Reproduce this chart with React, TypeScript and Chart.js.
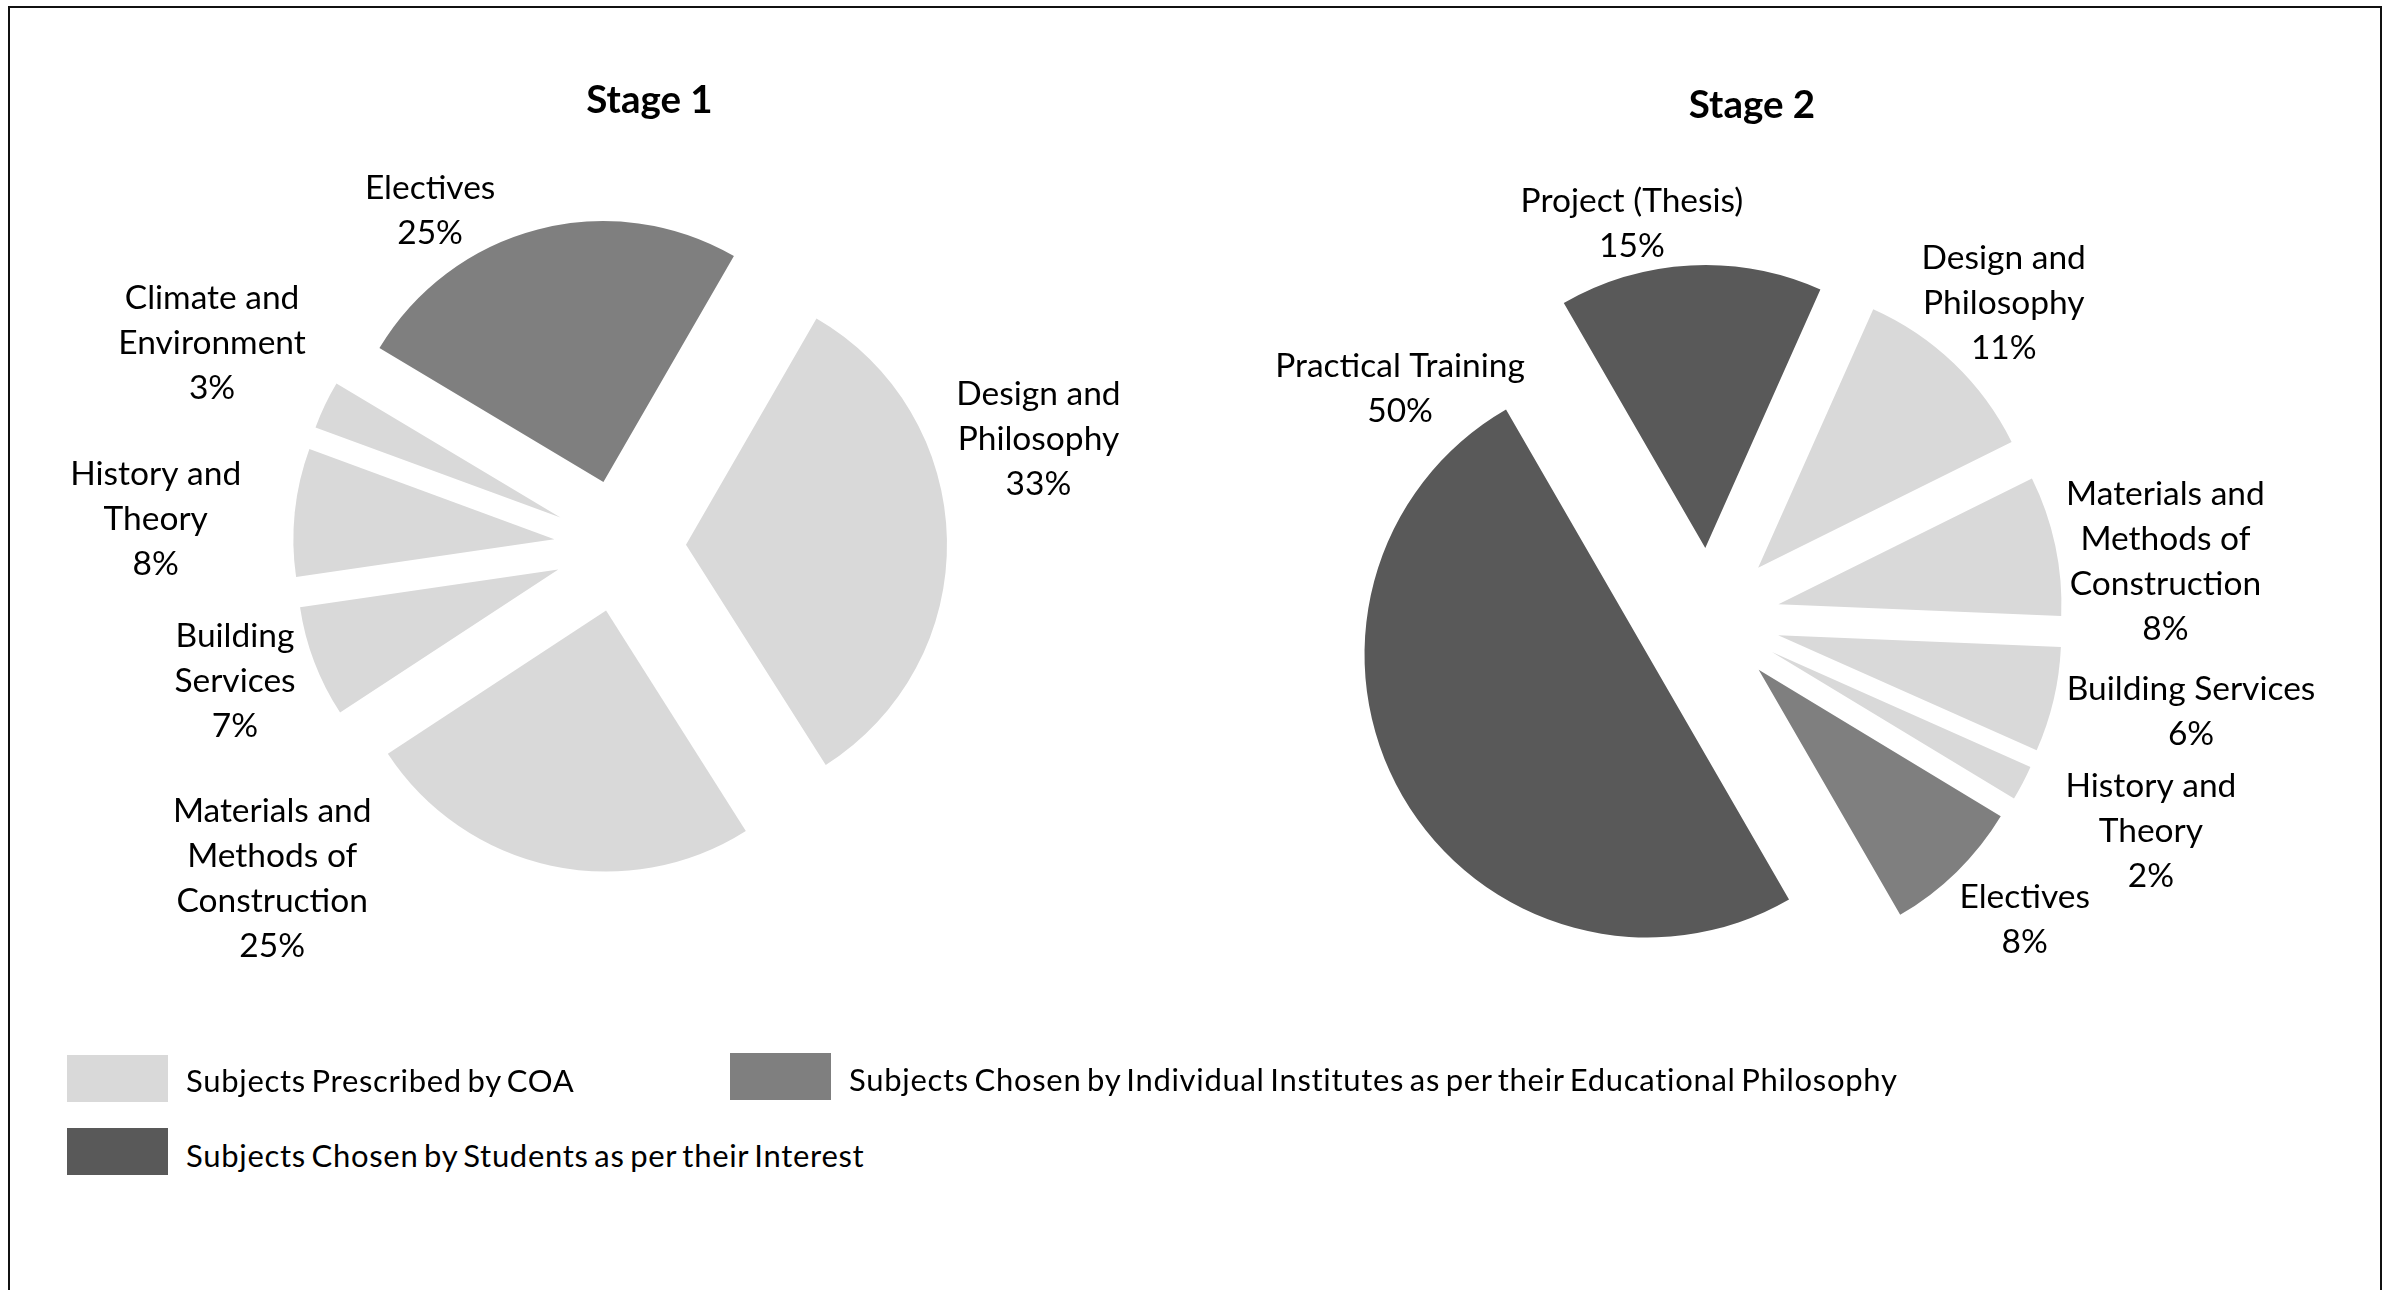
import React, { useEffect, useRef } from "react";
import { Chart, registerables } from "chart.js";

Chart.register(...registerables);

// ---------------- data ----------------
const stage1Categories: string[][] = [
  ["Design and", "Philosophy"],
  ["Materials and", "Methods of", "Construction"],
  ["Building", "Services"],
  ["History and", "Theory"],
  ["Climate and", "Environment"],
  ["Electives"],
];
const stage1Values = [33, 25, 7, 8, 3, 25];
const stage1Groups = [0, 0, 0, 0, 0, 1];

const stage2Categories: string[][] = [
  ["Project (Thesis)"],
  ["Design and", "Philosophy"],
  ["Materials and", "Methods of", "Construction"],
  ["Building Services"],
  ["History and", "Theory"],
  ["Electives"],
  ["Practical Training"],
];
const stage2Values = [15, 11, 8, 6, 2, 8, 50];
const stage2Groups = [2, 0, 0, 0, 0, 1, 2];

const groupNames = [
  "Subjects Prescribed by COA",
  "Subjects Chosen by Individual Institutes as per their Educational Philosophy",
  "Subjects Chosen by Students as per their Interest",
];
const chartTitles = ["Stage 1", "Stage 2"];

// ---------------- styles / layout ----------------
const GROUP_COLORS = ["#d9d9d9", "#7f7f7f", "#595959"];
const FONT = "Lato";
const LABEL_PX = 33.5;
const LINE_H = 45;
const CAP_HALF = 12;
const TITLE_PX = 38.5;
const LEGEND_PX = 31;

type Layout = {
  left: number; top: number; width: number; height: number;
  radius: number; explode: number; rotation: number;
  title: [number, number];
  labels: [number, number][];
};

const LAYOUT: Layout[] = [
  {
    left: 0, top: 0, width: 1240, height: 1092,
    radius: 261, explode: 66, rotation: 30,
    title: [0.113, -1.659],
    labels: [[75.5, 1.656], [226.4, 1.84], [250.8, 1.562], [273.4, 1.782], [296.6, 1.748], [330.6, 1.482]],
  },
  {
    left: 1079, top: 0, width: 1260, height: 1238,
    radius: 283, explode: 71, rotation: -30,
    title: [0.152, -1.77],
    labels: [[349.0, 1.427], [42.9, 1.53], [82.7, 1.626], [100.8, 1.734], [115.5, 1.73], [133.5, 1.538], [306.9, 1.365]],
  },
];

const LEGEND_POS = [
  { sx: 67, sy: 1055, tx: 186, base: 1093 },
  { sx: 730, sy: 1053, tx: 849, base: 1092 },
  { sx: 67, sy: 1128, tx: 186, base: 1168 },
];
const SWATCH_W = 101;
const SWATCH_H = 47;

// ---------------- plugins ----------------
const explodePlugin = {
  id: "explode",
  afterDatasetUpdate(chart: any, args: any, opts: any) {
    const meta = chart.getDatasetMeta(args.index);
    const { left, right, top, bottom } = chart.chartArea;
    const cx = (left + right) / 2;
    const cy = (top + bottom) / 2;
    const d = opts.distance || 0;
    meta.data.forEach((arc: any) => {
      const mid = (arc.startAngle + arc.endAngle) / 2;
      arc.x = cx + Math.cos(mid) * d;
      arc.y = cy + Math.sin(mid) * d;
    });
  },
};

const labelPlugin = {
  id: "sliceLabels",
  afterDraw(chart: any, _args: any, opts: any) {
    const ctx = chart.ctx as CanvasRenderingContext2D;
    const { left, right, top, bottom } = chart.chartArea;
    const cx = (left + right) / 2;
    const cy = (top + bottom) / 2;
    const meta = chart.getDatasetMeta(0);
    const R = meta.data[0].outerRadius;
    const labels = chart.data.labels as string[][];
    const values = chart.data.datasets[0].data as number[];
    ctx.save();
    ctx.fillStyle = "#000";
    ctx.textAlign = "center";
    ctx.textBaseline = "alphabetic";
    ctx.font = `${LABEL_PX}px ${FONT}`;
    labels.forEach((lines, i) => {
      const [angDeg, k] = opts.positions[i];
      const a = ((angDeg - 90) * Math.PI) / 180;
      const x = cx + Math.cos(a) * k * R;
      const y = cy + Math.sin(a) * k * R;
      const all = [...lines, `${values[i]}%`];
      const n = all.length;
      all.forEach((t, j) => {
        ctx.fillText(t, x, y + (j - (n - 1) / 2) * LINE_H + CAP_HALF);
      });
    });
    ctx.font = `bold ${TITLE_PX}px ${FONT}`;
    ctx.fillText(opts.title, cx + opts.titlePos[0] * R, cy + opts.titlePos[1] * R);
    ctx.restore();
  },
};

function PieChart(props: { idx: number; categories: string[][]; values: number[]; groups: number[] }) {
  const { idx, categories, values, groups } = props;
  const L = LAYOUT[idx];
  const ref = useRef<HTMLCanvasElement>(null);
  useEffect(() => {
    let chart: Chart | null = null;
    let cancelled = false;
    const make = () => {
      if (cancelled || !ref.current) return;
      chart = new Chart(ref.current, {
        type: "pie",
        data: {
          labels: categories as any,
          datasets: [
            {
              data: values,
              backgroundColor: groups.map((g) => GROUP_COLORS[g]),
              borderWidth: 0,
            },
          ],
        },
        options: {
          responsive: false,
          animation: false,
          events: [],
          radius: L.radius,
          rotation: L.rotation,
          layout: { padding: 0 },
          plugins: {
            legend: { display: false },
            tooltip: { enabled: false },
            title: { display: false },
            explode: { distance: L.explode },
            sliceLabels: { positions: L.labels, title: chartTitles[idx], titlePos: L.title },
          } as any,
        } as any,
        plugins: [explodePlugin, labelPlugin],
      });
    };
    const fontsReady = (document as any).fonts
      ? Promise.all([
          (document as any).fonts.load(`${LABEL_PX}px ${FONT}`),
          (document as any).fonts.load(`bold ${TITLE_PX}px ${FONT}`),
        ]).catch(() => null)
      : Promise.resolve(null);
    fontsReady.then(make);
    return () => {
      cancelled = true;
      if (chart) chart.destroy();
    };
  }, []);
  return (
    <canvas
      ref={ref}
      width={L.width}
      height={L.height}
      style={{ position: "absolute", left: L.left, top: L.top, width: L.width, height: L.height }}
    />
  );
}

export default function App() {
  return (
    <div style={{ position: "fixed", left: 0, top: 0, width: 2391, height: 1290, overflow: "hidden", background: "#fff" }}>
      <div
        style={{
          position: "absolute", left: 8, top: 6, width: 2374, height: 1320,
          border: "2px solid #111", boxSizing: "border-box",
        }}
      />
      <PieChart idx={0} categories={stage1Categories} values={stage1Values} groups={stage1Groups} />
      <PieChart idx={1} categories={stage2Categories} values={stage2Values} groups={stage2Groups} />
      {groupNames.map((name, i) => {
        const p = LEGEND_POS[i];
        return (
          <React.Fragment key={name}>
            <div
              style={{
                position: "absolute", left: p.sx, top: p.sy, width: SWATCH_W, height: SWATCH_H,
                background: GROUP_COLORS[i],
              }}
            />
            <div
              style={{
                position: "absolute", left: p.tx, top: p.base - 0.987 * LEGEND_PX,
                font: `${LEGEND_PX}px ${FONT}`, lineHeight: 1.2, whiteSpace: "nowrap", color: "#000",
                letterSpacing: "0.7px", wordSpacing: "-3px",
              }}
            >
              {name}
            </div>
          </React.Fragment>
        );
      })}
    </div>
  );
}
